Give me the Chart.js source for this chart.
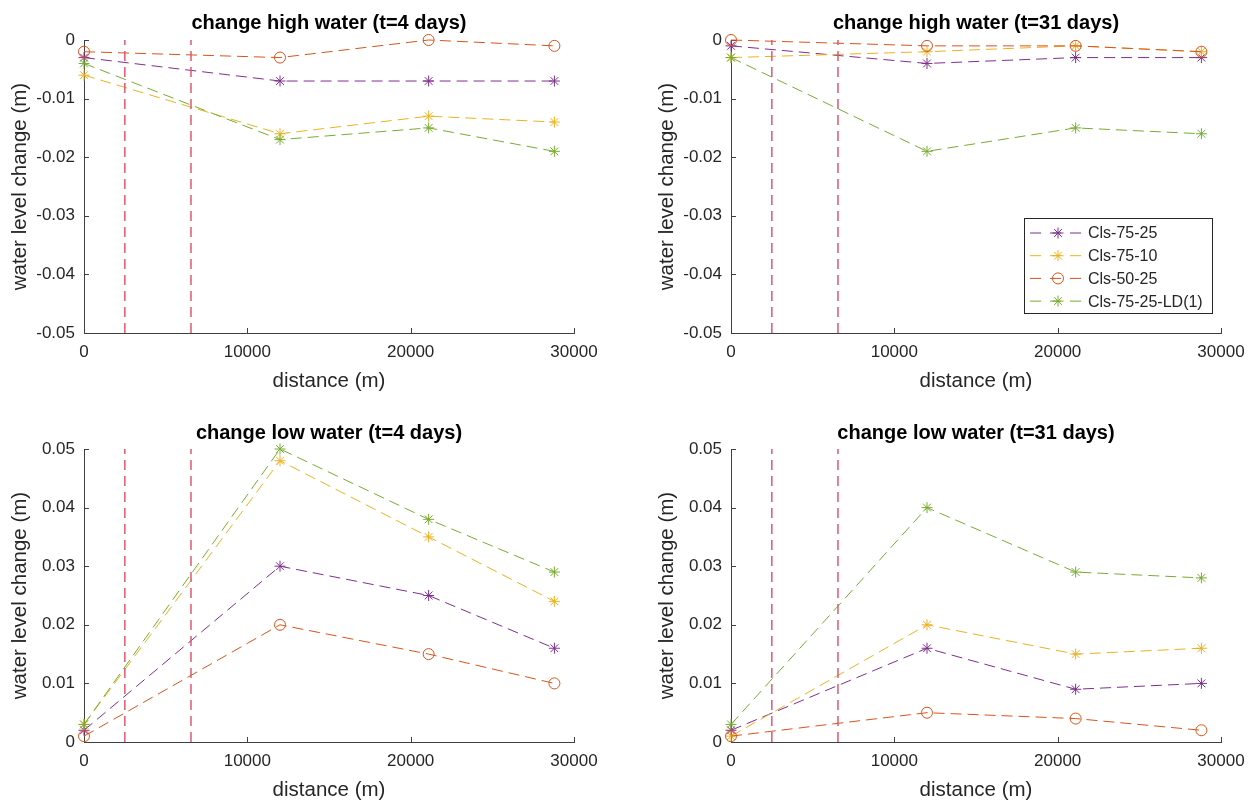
<!DOCTYPE html>
<html>
<head>
<meta charset="utf-8">
<title>water level change</title>
<script src="https://cdn.jsdelivr.net/npm/chart.js@4.4.0/dist/chart.umd.min.js"></script>
<style>
  html, body { margin: 0; padding: 0; background: #fff; }
  #wrap { position: relative; width: 1254px; height: 803px; overflow: hidden; }
  .panel { position: absolute; }
  .panel canvas { display: block; }
</style>
</head>
<body>
<div id="wrap">
  <div class="panel" style="left:0;top:0"><canvas id="hw4" width="627" height="401"></canvas></div>
  <div class="panel" style="left:627px;top:0"><canvas id="hw31" width="627" height="401"></canvas></div>
  <div class="panel" style="left:0;top:401px"><canvas id="lw4" width="627" height="402"></canvas></div>
  <div class="panel" style="left:627px;top:401px"><canvas id="lw31" width="627" height="402"></canvas></div>
</div>
<script>
// afstand langs de rivier (m)
const distance = [0, 12000, 21100, 28800];
const seriesNames = ["Cls-75-25", "Cls-75-10", "Cls-50-25", "Cls-75-25-LD(1)"];
const seriesColors = ["#7E2F8E", "#EDB120", "#D95319", "#77AC30"];
const seriesMarkers = ["star", "star", "circle", "star"];

// rode stippellijnen (m)
const dividers = [2500, 6550];

// waarden per paneel, volgorde = seriesNames
const highWater4 = [
    [-0.003, -0.007, -0.007, -0.007],
    [-0.006, -0.016, -0.013, -0.014],
    [-0.002, -0.003, 0.000, -0.001],
    [-0.004, -0.017, -0.015, -0.019],
];
const highWater31 = [
    [-0.001, -0.004, -0.003, -0.003],
    [-0.003, -0.002, -0.001, -0.002],
    [0.000, -0.001, -0.001, -0.002],
    [-0.003, -0.019, -0.015, -0.016],
];
const lowWater4 = [
    [0.002, 0.030, 0.025, 0.016],
    [0.003, 0.048, 0.035, 0.024],
    [0.001, 0.020, 0.015, 0.010],
    [0.003, 0.050, 0.038, 0.029],
];
const lowWater31 = [
    [0.002, 0.016, 0.009, 0.010],
    [0.001, 0.020, 0.015, 0.016],
    [0.001, 0.005, 0.004, 0.002],
    [0.003, 0.040, 0.029, 0.028],
];

// tick labels
const xTicks = [0, 10000, 20000, 30000];
const highTicks = [-0.05, -0.04, -0.03, -0.02, -0.01, 0];
const lowTicks = [0, 0.01, 0.02, 0.03, 0.04, 0.05];

Chart.defaults.font.family = "'Liberation Sans', Arial, sans-serif";
Chart.defaults.color = "#262626";

const axisColor = "#404040";

// MATLAB-achtige tickjes naar binnen
const inwardTicks = {
    id: "inwardTicks",
    beforeDatasetsDraw(chart) {
        const { ctx, chartArea: a, scales: { x, y } } = chart;
        ctx.save();
        ctx.strokeStyle = axisColor;
        ctx.lineWidth = 1;
        ctx.beginPath();
        x.ticks.forEach((t) => {
            const px = Math.round(x.getPixelForValue(t.value)) + 0.5;
            ctx.moveTo(px, a.bottom);
            ctx.lineTo(px, a.bottom - 5);
        });
        y.ticks.forEach((t) => {
            const py = Math.round(y.getPixelForValue(t.value)) + 0.5;
            ctx.moveTo(a.left, py);
            ctx.lineTo(a.left + 5, py);
        });
        ctx.stroke();
        ctx.restore();
    },
};

// legenda met kader binnen de plot
const boxLegend = {
    id: "boxLegend",
    afterDraw(chart, args, opts) {
        if (!opts.show) return;
        const { ctx, chartArea: a } = chart;
        const w = 188, h = 95, rowH = 22.7;
        const right = a.right - 9, bottom = a.bottom - 20;
        const left = right - w, top = bottom - h;
        ctx.save();
        ctx.fillStyle = "#fff";
        ctx.fillRect(left, top, w, h);
        ctx.strokeStyle = "#262626";
        ctx.lineWidth = 1;
        ctx.strokeRect(Math.round(left) + 0.5, Math.round(top) + 0.5, w, h);
        seriesNames.forEach((name, i) => {
            const cy = top + 15 + i * rowH;
            ctx.strokeStyle = seriesColors[i];
            ctx.lineWidth = 1;
            ctx.setLineDash([11, 9]);
            ctx.beginPath();
            ctx.moveTo(left + 6, cy);
            ctx.lineTo(left + 59, cy);
            ctx.stroke();
            ctx.setLineDash([]);
            ctx.fillStyle = "rgba(0,0,0,0)";
            Chart.helpers.drawPoint(ctx, { pointStyle: seriesMarkers[i], radius: 5.5, borderWidth: 1, rotation: 0 }, left + 34, cy);
            ctx.fillStyle = "#262626";
            ctx.font = "16px 'Liberation Sans', Arial, sans-serif";
            ctx.textBaseline = "middle";
            ctx.textAlign = "left";
            ctx.fillText(name, left + 64, cy + 1);
        });
        ctx.restore();
    },
};

function makePanel(id, title, values, yTicks, layout) {
    const yMin = yTicks[0], yMax = yTicks[yTicks.length - 1];
    const datasets = [];
    values.forEach((vals, i) => {
        datasets.push({
            label: seriesNames[i],
            data: distance.map((d, k) => ({ x: d, y: vals[k] })),
            borderColor: seriesColors[i],
            borderWidth: 1,
            borderDash: [11, 6],
            pointStyle: seriesMarkers[i],
            pointRadius: 5.5,
            pointBorderWidth: 1,
            pointBorderColor: seriesColors[i],
            pointBackgroundColor: "rgba(0,0,0,0)",
            fill: false,
            tension: 0,
            clip: false,
            order: 4 - i,
        });
    });
    dividers.forEach((d) => {
        datasets.push({
            label: "",
            data: [{ x: d, y: yMin }, { x: d, y: yMax }],
            borderColor: "#dc5a72",
            borderWidth: 1.5,
            borderDash: [10, 6],
            pointRadius: 0,
            fill: false,
            order: 0,
        });
    });

    return new Chart(document.getElementById(id), {
        type: "line",
        data: { datasets: datasets },
        options: {
            responsive: false,
            animation: false,
            devicePixelRatio: 1,
            layout: { padding: layout.padding },
            plugins: {
                legend: { display: false },
                tooltip: { enabled: false },
                title: {
                    display: true,
                    text: title,
                    fullSize: false,
                    color: "#000",
                    font: { size: 20, weight: "bold" },
                    padding: layout.titlePad,
                },
                boxLegend: { show: !!layout.legend },
            },
            scales: {
                x: {
                    type: "linear",
                    min: 0,
                    max: 30000,
                    afterBuildTicks: (s) => { s.ticks = xTicks.map((v) => ({ value: v })); },
                    afterFit: (s) => { s.height = 61; },
                    ticks: { font: { size: 17 }, padding: 9, maxRotation: 0, callback: (v) => String(v) },
                    grid: { display: false, drawTicks: false },
                    border: { display: true, color: axisColor, width: 1 },
                    title: { display: true, text: "distance (m)", font: { size: 20.5 }, padding: { top: 0, bottom: 0 } },
                },
                y: {
                    type: "linear",
                    min: yMin,
                    max: yMax,
                    afterBuildTicks: (s) => { s.ticks = yTicks.map((v) => ({ value: v })); },
                    afterFit: (s) => { s.width = 84; },
                    ticks: { font: { size: 17 }, padding: 9, callback: (v) => (v === 0 ? "0" : v.toFixed(2)) },
                    grid: { display: false, drawTicks: false },
                    border: { display: true, color: axisColor, width: 1 },
                    title: { display: true, text: "water level change (m)", font: { size: 20.5 }, padding: { top: 8, bottom: 0 } },
                },
            },
        },
        plugins: [inwardTicks, boxLegend],
    });
}

makePanel("hw4", "change high water (t=4 days)", highWater4, highTicks, {
    padding: { left: 0, right: 53, top: 0, bottom: 7 },
    titlePad: { top: 11, bottom: 5 },
});
makePanel("hw31", "change high water (t=31 days)", highWater31, highTicks, {
    padding: { left: 20, right: 33, top: 0, bottom: 7 },
    titlePad: { top: 11, bottom: 5 },
    legend: true,
});
makePanel("lw4", "change low water (t=4 days)", lowWater4, lowTicks, {
    padding: { left: 0, right: 53, top: 0, bottom: 0 },
    titlePad: { top: 20, bottom: 4 },
});
makePanel("lw31", "change low water (t=31 days)", lowWater31, lowTicks, {
    padding: { left: 20, right: 33, top: 0, bottom: 0 },
    titlePad: { top: 20, bottom: 4 },
});
</script>
</body>
</html>
